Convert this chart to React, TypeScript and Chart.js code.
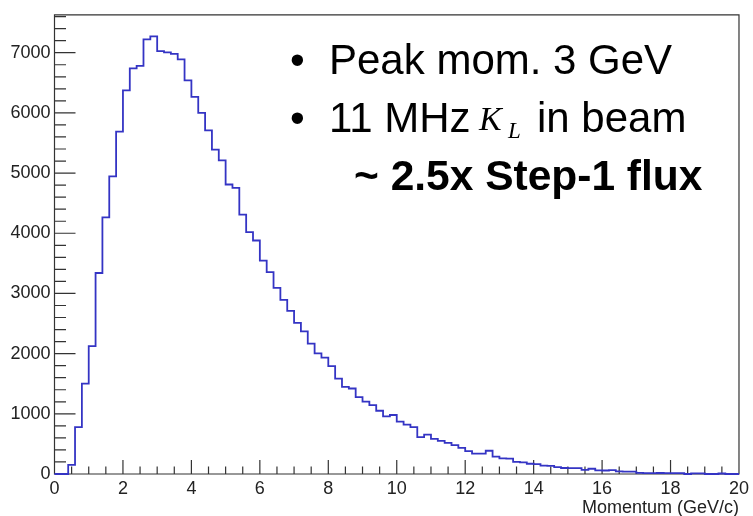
import { useEffect, useRef } from 'react';
import { Chart, registerables } from 'chart.js';

Chart.register(...registerables);

// Histogram definition: 100 bins of 0.2 GeV/c from 0 to 20 GeV/c
const BIN_START = 0;
const BIN_WIDTH = 0.2;
const X_MIN = 0;
const X_MAX = 20;
const Y_MIN = 0;
const Y_MAX = 7630;

// Bin contents (entries per 0.2 GeV/c bin)
const COUNTS: number[] = [
  0, 0, 150, 780, 1500, 2125, 3340, 4265, 4945, 5690,
  6375, 6740, 6780, 7222, 7270, 7025, 7005, 6980, 6890, 6540,
  6265, 6000, 5710, 5390, 5210, 4810, 4755, 4310, 4020, 3880,
  3546, 3355, 3093, 2892, 2712, 2510, 2369, 2167, 2003, 1933,
  1791, 1585, 1448, 1421, 1279, 1203, 1144, 1051, 958, 980,
  871, 822, 778, 614, 654, 582, 549, 516, 479, 435,
  381, 340, 338, 386, 290, 261, 255, 200, 192, 170,
  165, 138, 134, 114, 100, 98, 96, 70, 87, 60,
  58, 66, 45, 40, 38, 18, 16, 15, 17, 14,
  16, 15, 0, 10, 9, 0, 0, 8, 0, 0,
];

// Tick labels
const X_TICKS: number[] = [0, 2, 4, 6, 8, 10, 12, 14, 16, 18, 20];
const Y_TICKS: number[] = [0, 1000, 2000, 3000, 4000, 5000, 6000, 7000];
const X_MINOR_STEP = 0.5;
const Y_MINOR_STEP = 200;

const X_TITLE = 'Momentum (GeV/c)';
const NOTE_LINE_1 = 'Peak mom. 3 GeV';
const NOTE_LINE_2A = '11 MHz';
const NOTE_K = 'K';
const NOTE_SUB = 'L';
const NOTE_LINE_2B = 'in beam';
const NOTE_LINE_3 = '~ 2.5x Step-1 flux';

const SANS = '"Liberation Sans", Arial, Helvetica, sans-serif';
const SERIF = '"Liberation Serif", "Times New Roman", serif';
const HIST_COLOR = '#3434c4';
const AXIS_COLOR = '#333333';

const isMajor = (v: number, majors: number[]) => majors.some((m) => Math.abs(m - v) < 1e-9);

const framePlugin = {
  id: 'rootFrame',
  beforeDatasetsDraw(chart: any) {
    const { ctx, chartArea, scales } = chart;
    const { left, right, top, bottom } = chartArea;
    const xs = scales.x;
    const ys = scales.y;
    ctx.save();
    ctx.strokeStyle = AXIS_COLOR;
    ctx.lineWidth = 1.2;
    ctx.beginPath();
    ctx.rect(left, top, right - left, bottom - top);
    // y ticks (inward)
    const nY = Math.floor((Y_MAX - Y_MIN) / Y_MINOR_STEP + 1e-9);
    for (let i = 0; i <= nY; i++) {
      const v = Y_MIN + i * Y_MINOR_STEP;
      const py = ys.getPixelForValue(v);
      ctx.moveTo(left, py);
      ctx.lineTo(left + (isMajor(v, Y_TICKS) ? 21 : 11.5), py);
    }
    // x ticks (inward)
    const nX = Math.round((X_MAX - X_MIN) / X_MINOR_STEP);
    for (let i = 0; i <= nX; i++) {
      const v = X_MIN + i * X_MINOR_STEP;
      const px = xs.getPixelForValue(v);
      ctx.moveTo(px, bottom);
      ctx.lineTo(px, bottom - (isMajor(v, X_TICKS) ? 14 : 7.5));
    }
    ctx.stroke();
    ctx.restore();
  },
  afterDraw(chart: any) {
    const { ctx, chartArea } = chart;
    ctx.save();
    // axis title
    ctx.fillStyle = '#222';
    ctx.font = `18px ${SANS}`;
    ctx.textAlign = 'right';
    ctx.textBaseline = 'alphabetic';
    ctx.fillText(X_TITLE, chartArea.right, 513);

    // annotation
    ctx.textAlign = 'left';
    ctx.fillStyle = '#000';
    const sans = `42px ${SANS}`;
    ctx.font = sans;
    ctx.fillText('\u2022', 290, 74);
    ctx.fillText(NOTE_LINE_1, 329, 74);
    ctx.fillText('\u2022', 290, 132);
    ctx.fillText(NOTE_LINE_2A, 329, 132);
    ctx.font = `italic 34px ${SERIF}`;
    ctx.fillText(NOTE_K, 479, 130);
    ctx.font = `italic 23px ${SERIF}`;
    ctx.fillText(NOTE_SUB, 508, 138);
    ctx.font = sans;
    ctx.fillText(NOTE_LINE_2B, 537, 132);
    ctx.font = `bold 42.5px ${SANS}`;
    ctx.fillText(NOTE_LINE_3, 354, 190);
    ctx.restore();
  },
};

export default function App() {
  const canvasRef = useRef<HTMLCanvasElement | null>(null);

  useEffect(() => {
    const canvas = canvasRef.current;
    if (!canvas) return;
    const points = COUNTS.map((c, i) => ({ x: BIN_START + i * BIN_WIDTH, y: c }));
    points.push({ x: BIN_START + COUNTS.length * BIN_WIDTH, y: COUNTS[COUNTS.length - 1] });

    const chart = new Chart(canvas, {
      type: 'line',
      data: {
        datasets: [
          {
            data: points,
            stepped: 'before',
            borderColor: HIST_COLOR,
            borderWidth: 1.8,
            pointRadius: 0,
            fill: false,
            tension: 0,
            clip: 3,
          } as any,
        ],
      },
      options: {
        responsive: false,
        animation: false,
        events: [],
        layout: { padding: { top: 8, right: 9, left: 0, bottom: 0 } },
        plugins: {
          legend: { display: false },
          tooltip: { enabled: false },
          title: { display: false },
        },
        scales: {
          x: {
            type: 'linear',
            min: X_MIN,
            max: X_MAX,
            grid: { display: false, drawTicks: false },
            border: { display: false },
            ticks: {
              autoSkip: false,
              maxRotation: 0,
              padding: 4,
              color: '#222',
              font: { family: SANS, size: 18 },
              callback: (v: any) => String(v),
            },
            afterBuildTicks: (s: any) => {
              s.ticks = X_TICKS.map((v) => ({ value: v }));
            },
            afterFit: (s: any) => {
              s.height = 42;
            },
          },
          y: {
            type: 'linear',
            min: Y_MIN,
            max: Y_MAX,
            grid: { display: false, drawTicks: false },
            border: { display: false },
            ticks: {
              autoSkip: false,
              padding: 4,
              color: '#222',
              font: { family: SANS, size: 18 },
              callback: (v: any) => String(v),
            },
            afterBuildTicks: (s: any) => {
              s.ticks = Y_TICKS.map((v) => ({ value: v }));
            },
            afterFit: (s: any) => {
              s.width = 54.5;
            },
          },
        },
      },
      plugins: [framePlugin],
    });
    return () => chart.destroy();
  }, []);

  return (
    <div style={{ position: 'fixed', left: 0, top: 0, width: 753, height: 516, background: '#fff' }}>
      <canvas ref={canvasRef} width={753} height={516} style={{ display: 'block' }} />
    </div>
  );
}
